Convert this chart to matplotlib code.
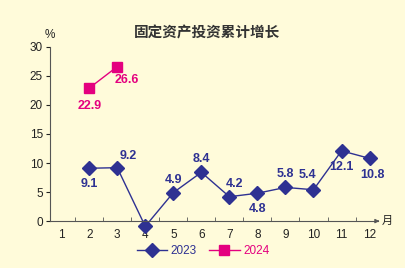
import matplotlib
matplotlib.use("Agg")
import matplotlib.pyplot as plt

plt.rcParams['font.family'] = ['Liberation Sans', 'Noto Sans CJK SC', 'DejaVu Sans']

# data
months = list(range(1, 13))
months_2023 = [2, 3, 4, 5, 6, 7, 8, 9, 10, 11, 12]
growth_2023 = [9.1, 9.2, -0.9, 4.9, 8.4, 4.2, 4.8, 5.8, 5.4, 12.1, 10.8]
months_2024 = [2, 3]
growth_2024 = [22.9, 26.6]

# label offsets in points (dx, dy)
offsets_2023 = [(0, -16), (8, 4), (0, 6), (0, 5), (0, 5), (4, 5), (0, -16), (0, 5), (-4, 6), (0, -16), (2, -16)]
offsets_2024 = [(0, -17), (7, -14)]

bg = '#FFFBDA'
blue = '#2E3192'
pink = '#E4007F'

fig = plt.figure(figsize=(4.06, 2.68), dpi=100, facecolor=bg)
ax = fig.add_axes([0.123, 0.175, 0.808, 0.65], facecolor=bg)

ax.plot(months_2023, growth_2023, color=blue, lw=1, marker='D', ms=7, label='2023', clip_on=False)
ax.plot(months_2024, growth_2024, color=pink, lw=1, marker='s', ms=6.5, label='2024', clip_on=False)

for x, y, (dx, dy) in zip(months_2023, growth_2023, offsets_2023):
    ax.annotate(f'{y}', (x, y), xytext=(dx, dy), textcoords='offset points',
                ha='center', va='bottom', fontsize=9, fontweight='bold', color=blue)
for x, y, (dx, dy) in zip(months_2024, growth_2024, offsets_2024):
    ax.annotate(f'{y}', (x, y), xytext=(dx, dy), textcoords='offset points',
                ha='center', va='bottom', fontsize=9, fontweight='bold', color=pink)

ax.set_xlim(0.6, 12.3)
ax.set_ylim(0, 30)
ax.set_yticks([0, 5, 10, 15, 20, 25, 30])
ax.set_xticks(months)
ax.set_xticks([m + 0.5 for m in range(1, 12)], minor=True)
ax.tick_params(axis='x', which='major', length=0, labelsize=8.5, pad=6, colors='#222222')
ax.tick_params(axis='x', which='minor', length=3, direction='in', color='#555555')
ax.tick_params(axis='y', length=3, direction='out', labelsize=8.5, colors='#222222', pad=2)

for s in ['top', 'right']:
    ax.spines[s].set_visible(False)
ax.spines['left'].set_color('#555555')
ax.spines['bottom'].set_color('#555555')
ax.spines['left'].set_linewidth(0.8)
ax.spines['bottom'].set_linewidth(0.8)
ax.annotate('', xy=(12.45, 0), xytext=(12.2, 0), annotation_clip=False,
            arrowprops=dict(arrowstyle='-|>', color='#555555', lw=0.8, mutation_scale=6))

fig.text(0.123, 0.86, '%', fontsize=8.5, color='#222222', ha='center')
fig.text(0.955, 0.175, '月', fontsize=8, color='#222222', ha='center', va='center',
         family=['Noto Sans CJK SC'])
fig.text(0.51, 0.86, '固定资产投资累计增长', fontsize=10.5, fontweight='bold',
         color='#333333', ha='center', family=['Noto Sans CJK SC'])

leg = fig.legend(loc='lower center', bbox_to_anchor=(0.5, 0.0), ncol=2, frameon=False,
                 fontsize=8.5, handlelength=2.6, columnspacing=1.0, handletextpad=0.3)
for text, c in zip(leg.get_texts(), [blue, pink]):
    text.set_color(c)

fig.savefig('out.png', dpi=100, facecolor=bg)
